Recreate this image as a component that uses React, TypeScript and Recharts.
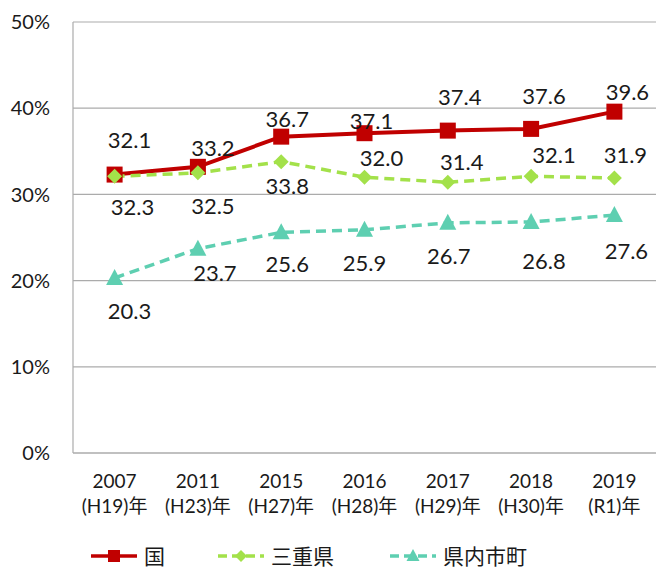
// Line chart: 国 / 三重県 / 県内市町 percentages, 2007-2019

import React from 'react';
import { LineChart, Line, XAxis, YAxis, CartesianGrid, Legend, LabelList } from 'recharts';

const years = ['2007', '2011', '2015', '2016', '2017', '2018', '2019'];
const eras = ['(H19)年', '(H23)年', '(H27)年', '(H28)年', '(H29)年', '(H30)年', '(R1)年'];

const kuni = [32.3, 33.2, 36.7, 37.1, 37.4, 37.6, 39.6];
const mie = [32.1, 32.5, 33.8, 32.0, 31.4, 32.1, 31.9];
const shicho = [20.3, 23.7, 25.6, 25.9, 26.7, 26.8, 27.6];

const yTicks = [0, 10, 20, 30, 40, 50];

// label placement (dx, dy from each point), as in the original
const kuniLabelPos = [[18, 32], [15, -19], [6, -18], [7, -13], [12, -34], [13, -33], [13, -20]];
const mieLabelPos = [[15, -37], [15, 33], [6, 24], [17, -20], [14, -21], [23, -22], [11, -24]];
const shichoLabelPos = [[15, 32], [17, 24], [6, 31], [0, 33], [1, 33], [13, 39], [12, 35]];

const FONT = "Lato, 'Noto Sans CJK JP', sans-serif";
const RED = '#C00000';
const GREEN = '#A3E14A';
const TEAL = '#5ECFB1';
const GRID = '#ABABAB';

const data = years.map((year, i) => ({
  year,
  era: eras[i],
  kuni: kuni[i],
  mie: mie[i],
  shicho: shicho[i],
}));

const SquareDot = (props: any) => {
  const { cx, cy, index } = props;
  if (cx == null || cy == null) return null;
  return <rect key={`sq-${index}`} x={cx - 8} y={cy - 8} width={16} height={16} fill={RED} />;
};

const DiamondDot = (props: any) => {
  const { cx, cy, index } = props;
  if (cx == null || cy == null) return null;
  const r = 7.5;
  return (
    <polygon
      key={`dm-${index}`}
      points={`${cx},${cy - r} ${cx + r},${cy} ${cx},${cy + r} ${cx - r},${cy}`}
      fill={GREEN}
    />
  );
};

const TriangleDot = (props: any) => {
  const { cx, cy, index } = props;
  if (cx == null || cy == null) return null;
  return (
    <polygon
      key={`tr-${index}`}
      points={`${cx},${cy - 9} ${cx + 8.5},${cy + 7} ${cx - 8.5},${cy + 7}`}
      fill={TEAL}
    />
  );
};

const makeLabel = (pos: number[][]) => (props: any) => {
  const { x, y, value, index } = props;
  if (x == null || y == null) return null;
  const [dx, dy] = pos[index] || [0, -20];
  return (
    <text
      x={x + dx}
      y={y + dy}
      textAnchor="middle"
      dominantBaseline="central"
      fontFamily={FONT}
      fontSize={22}
      fill="#1a1a1a"
    >
      {Number(value).toFixed(1)}
    </text>
  );
};

const CategoryTick = (props: any) => {
  const { x, y, index } = props;
  return (
    <g>
      <text x={x} y={y + 35} textAnchor="middle" fontFamily={FONT} fontSize={19} fill="#1a1a1a">
        {years[index]}
      </text>
      <text x={x} y={y + 60} textAnchor="middle" fontFamily={FONT} fontSize={19} fill="#1a1a1a">
        {eras[index]}
      </text>
    </g>
  );
};

const legendItems = [
  { name: '国', color: RED, dash: undefined, shape: 'square', width: 127 },
  { name: '三重県', color: GREEN, dash: '9 5', shape: 'diamond', width: 172 },
  { name: '県内市町', color: TEAL, dash: '9 5', shape: 'triangle', width: 200 },
];

const LegendIcon = ({ color, dash, shape }: any) => (
  <svg width={46} height={20} style={{ display: 'block' }}>
    <line x1={0} y1={10} x2={46} y2={10} stroke={color} strokeWidth={3.5} strokeDasharray={dash} />
    {shape === 'square' && <rect x={17} y={4} width={12} height={12} fill={color} />}
    {shape === 'diamond' && <polygon points="23,4 29,10 23,16 17,10" fill={color} />}
    {shape === 'triangle' && <polygon points="23,3 29.5,15 16.5,15" fill={color} />}
  </svg>
);

const CustomLegend = () => (
  <div style={{ height: 34, paddingTop: 12, boxSizing: 'border-box', display: 'flex', paddingLeft: 91 }}>
    {legendItems.map((item) => (
      <div key={item.name} style={{ display: 'flex', alignItems: 'center', width: item.width, height: 22 }}>
        <LegendIcon color={item.color} dash={item.dash} shape={item.shape} />
        <span style={{ marginLeft: 7, fontFamily: FONT, fontSize: 21, color: '#1a1a1a', lineHeight: '22px' }}>
          {item.name}
        </span>
      </div>
    ))}
  </div>
);

export default function App() {
  return (
    <div style={{ position: 'absolute', left: 0, top: 0, width: 656, height: 567, background: '#fff', fontFamily: FONT }}>
      <LineChart width={656} height={567} data={data} margin={{ top: 22, right: 0, bottom: 0, left: 0 }}>
        <CartesianGrid vertical={false} stroke={GRID} strokeWidth={1.2} />
        <XAxis
          dataKey="year"
          height={80}
          interval={0}
          padding={{ left: 41.6, right: 41.6 }}
          tickLine={false}
          tickSize={0}
          tickMargin={0}
          axisLine={{ stroke: GRID, strokeWidth: 1.2 }}
          tick={<CategoryTick />}
        />
        <YAxis
          width={73}
          domain={[0, 50]}
          ticks={yTicks}
          interval={0}
          tickLine={false}
          tickSize={0}
          tickMargin={23}
          axisLine={{ stroke: GRID, strokeWidth: 1.2 }}
          tickFormatter={(v: number) => `${v}%`}
          tick={{ fill: '#1a1a1a', fontSize: 20, fontFamily: FONT }}
        />
        <Legend verticalAlign="bottom" content={<CustomLegend />} />
        <Line
          type="linear"
          dataKey="kuni"
          name="国"
          stroke={RED}
          strokeWidth={4}
          dot={SquareDot}
          activeDot={false}
          isAnimationActive={false}
        >
          <LabelList dataKey="kuni" content={makeLabel(kuniLabelPos)} />
        </Line>
        <Line
          type="linear"
          dataKey="mie"
          name="三重県"
          stroke={GREEN}
          strokeWidth={3.5}
          strokeDasharray="10 6"
          dot={DiamondDot}
          activeDot={false}
          isAnimationActive={false}
        >
          <LabelList dataKey="mie" content={makeLabel(mieLabelPos)} />
        </Line>
        <Line
          type="linear"
          dataKey="shicho"
          name="県内市町"
          stroke={TEAL}
          strokeWidth={3.5}
          strokeDasharray="10 6"
          dot={TriangleDot}
          activeDot={false}
          isAnimationActive={false}
        >
          <LabelList dataKey="shicho" content={makeLabel(shichoLabelPos)} />
        </Line>
      </LineChart>
    </div>
  );
}
